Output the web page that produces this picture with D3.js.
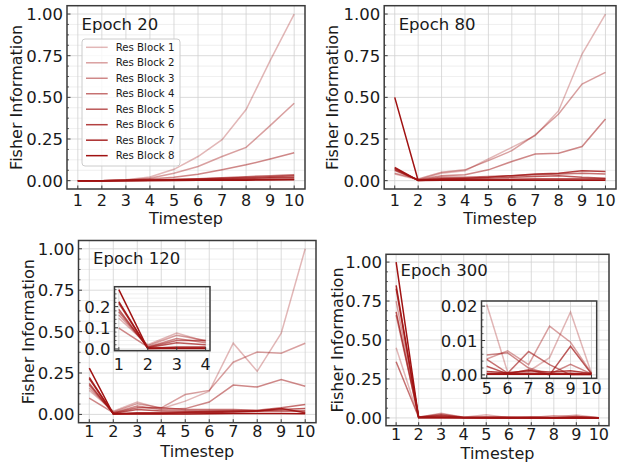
<!DOCTYPE html>
<html>
<head>
<meta charset="utf-8">
<script src="https://cdn.jsdelivr.net/npm/d3@7"></script>
<style>
  body { margin: 0; background: #fff; }
  text { font-family: "DejaVu Sans", sans-serif; fill: #1a1a1a; }
</style>
</head>
<body>
<svg id="chart" width="621" height="464"></svg>
<script>
// values, one row per Res Block (1..8), one column per timestep
var timesteps = [1, 2, 3, 4, 5, 6, 7, 8, 9, 10];
var blockNames = ['Res Block 1', 'Res Block 2', 'Res Block 3', 'Res Block 4',
                  'Res Block 5', 'Res Block 6', 'Res Block 7', 'Res Block 8'];
var mainYTicks = [0, 0.25, 0.5, 0.75, 1.0];

var epoch20 = [
  [0, 0, 0.005, 0.022, 0.068, 0.145, 0.246, 0.427, 0.72, 1.0],
  [0, 0, 0.004, 0.015, 0.045, 0.085, 0.145, 0.2, 0.33, 0.465],
  [0, 0, 0.003, 0.01, 0.02, 0.038, 0.065, 0.095, 0.13, 0.167],
  [0, 0, 0.002, 0.004, 0.008, 0.012, 0.018, 0.024, 0.03, 0.036],
  [0, 0, 0.001, 0.003, 0.006, 0.01, 0.014, 0.019, 0.024, 0.03],
  [0, 0, 0.001, 0.002, 0.004, 0.007, 0.01, 0.013, 0.017, 0.021],
  [0, 0, 0.001, 0.001, 0.002, 0.003, 0.005, 0.006, 0.008, 0.01],
  [0, 0, 0, 0.001, 0.001, 0.002, 0.002, 0.003, 0.004, 0.005]
];
var epoch80 = [
  [0.04, 0.005, 0.045, 0.06, 0.13, 0.2, 0.27, 0.42, 0.76, 1.0],
  [0.045, 0.01, 0.05, 0.065, 0.12, 0.18, 0.275, 0.4, 0.58, 0.65],
  [0.06, 0.005, 0.03, 0.035, 0.065, 0.115, 0.16, 0.165, 0.205, 0.37],
  [0.065, 0.003, 0.02, 0.02, 0.025, 0.03, 0.035, 0.04, 0.045, 0.04],
  [0.07, 0.002, 0.01, 0.012, 0.015, 0.02, 0.025, 0.03, 0.02, 0.015],
  [0.075, 0.002, 0.012, 0.015, 0.02, 0.03, 0.04, 0.045, 0.06, 0.055],
  [0.08, 0.001, 0.005, 0.005, 0.006, 0.008, 0.01, 0.01, 0.01, 0.01],
  [0.5, 0.001, 0.002, 0.002, 0.002, 0.002, 0.002, 0.002, 0.002, 0.002]
];
var epoch120 = [
  [0.145, 0.02, 0.075, 0.035, 0.08, 0.14, 0.43, 0.26, 0.49, 1.0],
  [0.16, 0.015, 0.065, 0.04, 0.12, 0.145, 0.315, 0.377, 0.37, 0.43],
  [0.098, 0.01, 0.05, 0.03, 0.035, 0.075, 0.177, 0.165, 0.21, 0.17],
  [0.176, 0.008, 0.04, 0.04, 0.03, 0.03, 0.03, 0.025, 0.04, 0.06],
  [0.187, 0.006, 0.03, 0.02, 0.02, 0.02, 0.02, 0.02, 0.03, 0.035],
  [0.215, 0.004, 0.01, 0.01, 0.015, 0.018, 0.02, 0.02, 0.02, 0.02],
  [0.223, 0.003, 0.005, 0.005, 0.01, 0.012, 0.015, 0.02, 0.035, 0.01],
  [0.28, 0.002, 0.002, 0.002, 0.003, 0.004, 0.005, 0.005, 0.005, 0.004]
];
var epoch300 = [
  [0.45, 0.005, 0.03, 0.005, 0.0205, 0.0007, 0.001, 0.005, 0.0183, 0.0005],
  [0.75, 0.006, 0.025, 0.004, 0.0046, 0.007, 0.003, 0.0142, 0.0095, 0.0005],
  [0.66, 0.005, 0.02, 0.003, 0.0058, 0.0064, 0.002, 0.0002, 0.0031, 0.0003],
  [0.36, 0.004, 0.015, 0.003, 0.0045, 0.0005, 0.0068, 0.003, 0.0, 0.0002],
  [0.68, 0.004, 0.01, 0.002, 0.0025, 0.0003, 0.0015, 0.0, 0.0083, 0.0003],
  [0.83, 0.003, 0.005, 0.001, 0.001, 0.0006, 0.0012, 0.0008, 0.0012, 0.0004],
  [0.85, 0.002, 0.003, 0.001, 0.0004, 0.0004, 0.0005, 0.0004, 0.0005, 0.0002],
  [1.0, 0.001, 0.001, 0.0005, 0.0002, 0.0002, 0.0002, 0.0002, 0.0002, 0.0001]
];

var svg = d3.select('#chart');
var lineColor = '#a01212';
var gridMajor = '#d2d2d2';
var gridMinor = '#ebebeb';
var frameColor = '#3a3a3a';

function blockOpacity(i) {
  return 0.3 + 0.1 * i;
}

function minorTicks(step, domain, majors) {
  var out = [];
  var start = Math.ceil(domain[0] / step);
  var end = Math.floor(domain[1] / step);
  for (var k = start; k <= end; k++) {
    var v = +(k * step).toFixed(6);
    if (!majors.some(function(m) { return Math.abs(m - v) < 1e-9; })) out.push(v);
  }
  return out;
}

// draws one set of axes (main panel or inset) and returns its scales
function drawBox(o) {
  var g = svg.append('g');
  var x = d3.scaleLinear().domain(o.xDomain).range([o.left, o.right]);
  var y = d3.scaleLinear().domain(o.yDomain).range([o.bottom, o.top]);
  var yMinor = minorTicks(o.yMinorStep, o.yDomain, o.yTicks);

  g.append('rect')
    .attr('x', o.left).attr('y', o.top)
    .attr('width', o.right - o.left).attr('height', o.bottom - o.top)
    .attr('fill', '#fff');

  g.selectAll('.gminor').data(yMinor).enter().append('line')
    .attr('x1', o.left).attr('x2', o.right)
    .attr('y1', function(d) { return y(d); }).attr('y2', function(d) { return y(d); })
    .attr('stroke', gridMinor).attr('stroke-width', 0.8);
  g.selectAll('.gy').data(o.yTicks).enter().append('line')
    .attr('x1', o.left).attr('x2', o.right)
    .attr('y1', function(d) { return y(d); }).attr('y2', function(d) { return y(d); })
    .attr('stroke', gridMajor).attr('stroke-width', 0.8);
  g.selectAll('.gx').data(o.xTicks).enter().append('line')
    .attr('y1', o.top).attr('y2', o.bottom)
    .attr('x1', function(d) { return x(d); }).attr('x2', function(d) { return x(d); })
    .attr('stroke', gridMajor).attr('stroke-width', 0.8);

  var line = d3.line()
    .x(function(d) { return x(d.t); })
    .y(function(d) { return y(d.v); });

  o.series.forEach(function(vals, i) {
    var pts = timesteps.map(function(t, j) { return { t: t, v: vals[j] }; })
      .filter(function(p) { return p.t >= o.xDomain[0] && p.t <= o.xDomain[1]; });
    g.append('path')
      .datum(pts)
      .attr('d', line)
      .attr('fill', 'none')
      .attr('stroke', lineColor)
      .attr('stroke-opacity', blockOpacity(i))
      .attr('stroke-width', 1.5);
  });

  // inward ticks
  g.selectAll('.ty').data(o.yTicks).enter().append('line')
    .attr('x1', o.left).attr('x2', o.left + 3.5)
    .attr('y1', function(d) { return y(d); }).attr('y2', function(d) { return y(d); })
    .attr('stroke', frameColor).attr('stroke-width', 1);
  g.selectAll('.tym').data(yMinor).enter().append('line')
    .attr('x1', o.left).attr('x2', o.left + 2)
    .attr('y1', function(d) { return y(d); }).attr('y2', function(d) { return y(d); })
    .attr('stroke', frameColor).attr('stroke-width', 0.8);
  g.selectAll('.tx').data(o.xTicks).enter().append('line')
    .attr('y1', o.bottom).attr('y2', o.bottom - 3.5)
    .attr('x1', function(d) { return x(d); }).attr('x2', function(d) { return x(d); })
    .attr('stroke', frameColor).attr('stroke-width', 1);

  g.append('rect')
    .attr('x', o.left).attr('y', o.top)
    .attr('width', o.right - o.left).attr('height', o.bottom - o.top)
    .attr('fill', 'none').attr('stroke', frameColor).attr('stroke-width', 1.5);

  var fmt = d3.format(o.yFormat);
  g.selectAll('.ly').data(o.yTicks).enter().append('text')
    .attr('x', o.left - 4)
    .attr('y', function(d) { return y(d) + 6; })
    .attr('text-anchor', 'end')
    .attr('font-size', 16.5)
    .text(function(d) { return fmt(d); });
  g.selectAll('.lx').data(o.xTicks).enter().append('text')
    .attr('x', function(d) { return x(d); })
    .attr('y', o.xLabelBase)
    .attr('text-anchor', 'middle')
    .attr('font-size', 16)
    .text(function(d) { return d; });

  return { g: g, x: x, y: y };
}

function drawPanel(p) {
  var box = drawBox({
    left: p.left, right: p.right, top: p.top, bottom: p.bottom,
    xDomain: [0.55, 10.45], yDomain: [-0.05, 1.05],
    xTicks: timesteps, yTicks: mainYTicks, yMinorStep: 0.0625,
    yFormat: '.2f', xLabelBase: p.xLabelBase, series: p.series
  });
  box.g.append('text')
    .attr('x', p.left + 14.5).attr('y', p.top + p.titleDy)
    .attr('font-size', 16.5)
    .text(p.title);
  box.g.append('text')
    .attr('x', (p.left + p.right) / 2).attr('y', p.xTitleBase)
    .attr('text-anchor', 'middle')
    .attr('font-size', 16)
    .text('Timestep');
  box.g.append('text')
    .attr('transform', 'translate(' + p.yTitleX + ',' + (p.top + p.bottom) / 2 + ') rotate(-90)')
    .attr('text-anchor', 'middle')
    .attr('font-size', 16)
    .text('Fisher Information');
  return box;
}

var p1 = drawPanel({ left: 67, right: 305, top: 5.7, bottom: 189, series: epoch20,
  title: 'Epoch 20', titleDy: 24.3, xLabelBase: 205.5, xTitleBase: 223.5, yTitleX: 21.7 });
drawPanel({ left: 384.2, right: 616, top: 5.7, bottom: 189, series: epoch80,
  title: 'Epoch 80', titleDy: 24.3, xLabelBase: 205.5, xTitleBase: 223.5, yTitleX: 338 });
drawPanel({ left: 78.5, right: 316, top: 240.5, bottom: 422.7, series: epoch120,
  title: 'Epoch 120', titleDy: 23, xLabelBase: 437, xTitleBase: 456.5, yTitleX: 34 });
drawPanel({ left: 386, right: 609, top: 254.3, bottom: 425.7, series: epoch300,
  title: 'Epoch 300', titleDy: 21.4, xLabelBase: 440, xTitleBase: 459, yTitleX: 343 });

// insets
drawBox({
  left: 114.5, right: 210, top: 286.7, bottom: 350.7,
  xDomain: [0.85, 4.15], yDomain: [-0.008, 0.294],
  xTicks: [1, 2, 3, 4], yTicks: [0, 0.1, 0.2], yMinorStep: 0.02,
  yFormat: '.1f', xLabelBase: 370, series: epoch120
});
drawBox({
  left: 481.5, right: 596.7, top: 301, bottom: 378.3,
  xDomain: [4.75, 10.25], yDomain: [-0.001, 0.0215],
  xTicks: [5, 6, 7, 8, 9, 10], yTicks: [0, 0.01, 0.02], yMinorStep: 0.002,
  yFormat: '.2f', xLabelBase: 393.5, series: epoch300
});

// legend in the first panel
var legend = p1.g.append('g');
legend.append('rect')
  .attr('x', 82).attr('y', 39).attr('width', 98).attr('height', 127)
  .attr('rx', 3)
  .attr('fill', '#fff').attr('fill-opacity', 0.8)
  .attr('stroke', '#cccccc').attr('stroke-width', 1);
var rows = legend.selectAll('g.item').data(blockNames).enter().append('g')
  .attr('transform', function(d, i) { return 'translate(0,' + (47.3 + i * 15.48) + ')'; });
rows.append('line')
  .attr('x1', 86).attr('x2', 107.7)
  .attr('stroke', lineColor)
  .attr('stroke-opacity', function(d, i) { return blockOpacity(i); })
  .attr('stroke-width', 1.5);
rows.append('text')
  .attr('x', 115.7).attr('y', 3.6)
  .attr('font-size', 10.2)
  .text(function(d) { return d; });
</script>
</body>
</html>
